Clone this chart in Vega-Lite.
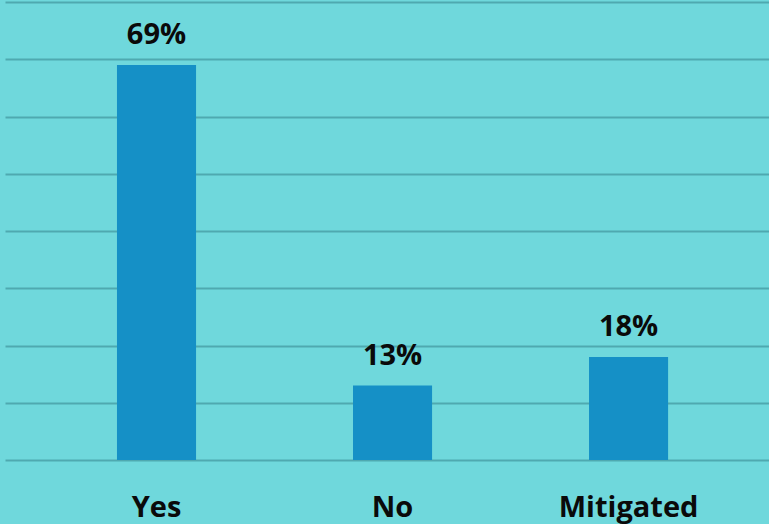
{
  "$schema": "https://vega.github.io/schema/vega-lite/v6.json",
  "width": 764,
  "height": 458,
  "autosize": {"type": "none"},
  "padding": {"left": 5, "top": 2, "right": 0, "bottom": 64},
  "background": "#6fd8dc",
  "config": {"view": {"stroke": null}, "font": "Open Sans"},
  "data": {"values": [
    {"answer": "Yes", "pct": 69, "label": "69%"},
    {"answer": "No", "pct": 13, "label": "13%"},
    {"answer": "Mitigated", "pct": 18, "label": "18%"}
  ]},
  "encoding": {
    "x": {"field": "answer", "type": "nominal", "sort": null,
      "scale": {"paddingInner": 0.665, "paddingOuter": 0.451, "align": 0.526},
      "axis": {"title": null, "domain": false, "ticks": false, "tickSize": 0, "labelAngle": 0,
        "labelFontSize": 29, "labelFontWeight": "bold", "labelColor": "#0a0a0a",
        "labelBaseline": "alphabetic", "labelPadding": 56, "labelFont": "Open Sans"}},
    "y": {"field": "pct", "type": "quantitative",
      "scale": {"domain": [0, 80], "nice": false},
      "axis": {"title": null, "labels": false, "ticks": false, "domain": false,
        "values": [0, 10, 20, 30, 40, 50, 60, 70, 80],
        "grid": true, "gridColor": "#4fa9b0", "gridWidth": 2}}
  },
  "layer": [
    {"mark": {"type": "bar", "color": "#1590c6"}},
    {"mark": {"type": "text", "baseline": "alphabetic", "dy": -21, "fontSize": 29, "fontWeight": "bold", "color": "#0a0a0a", "font": "Open Sans"},
     "encoding": {"text": {"field": "label"}}}
  ]
}
